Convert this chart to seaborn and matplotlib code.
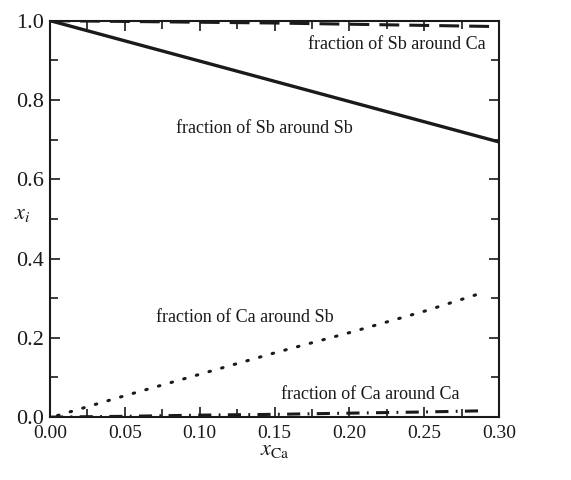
import numpy as np
import pandas as pd
import matplotlib
matplotlib.use("Agg")
import matplotlib.pyplot as plt
import seaborn as sns
from matplotlib.ticker import MultipleLocator

# values
x_sb_sb = [0.0, 0.05, 0.10, 0.15, 0.20, 0.25, 0.30]
y_sb_sb = [1.0, 0.949, 0.898, 0.847, 0.796, 0.745, 0.694]

x_sb_ca = [0.0, 0.05, 0.10, 0.15, 0.20, 0.25, 0.30]
y_sb_ca = [1.0, 0.998, 0.996, 0.994, 0.991, 0.988, 0.985]

x_ca_sb = [0.005, 0.05, 0.10, 0.15, 0.20, 0.25, 0.29]
y_ca_sb = [0.004, 0.054, 0.108, 0.162, 0.213, 0.267, 0.315]

x_ca_ca = [0.0, 0.05, 0.10, 0.15, 0.20, 0.25, 0.29]
y_ca_ca = [0.0, 0.002, 0.005, 0.007, 0.010, 0.013, 0.016]

labels = ["fraction of Sb around Ca", "fraction of Sb around Sb",
          "fraction of Ca around Sb", "fraction of Ca around Ca"]

sns.set_style("ticks")
plt.rcParams["font.family"] = ["Liberation Serif", "DejaVu Serif"]
plt.rcParams["mathtext.fontset"] = "stix"

fig = plt.figure(figsize=(5.71, 4.80), dpi=100)
ax = fig.add_axes([0.0876, 0.131, 0.7864, 0.826])

ink = "#1a1a1a"
sns.lineplot(x=x_sb_sb, y=y_sb_sb, ax=ax, color=ink, lw=2.4, linestyle="-")
sns.lineplot(x=x_sb_ca, y=y_sb_ca, ax=ax, color=ink, lw=2.2,
             linestyle=(0, (6.5, 3.3)))
sns.lineplot(x=x_ca_sb, y=y_ca_sb, ax=ax, color=ink, lw=2.2,
             linestyle=(0, (0.5, 3.8)), dash_capstyle="round")
sns.lineplot(x=x_ca_ca, y=y_ca_ca, ax=ax, color=ink, lw=2.2,
             linestyle=(0, (4.3, 2.4, 0.6, 2.4)))

ax.set_xlim(0, 0.30)
ax.set_ylim(0, 1.0)
ax.xaxis.set_major_locator(MultipleLocator(0.05))
ax.xaxis.set_minor_locator(MultipleLocator(0.025))
ax.yaxis.set_major_locator(MultipleLocator(0.2))
ax.yaxis.set_minor_locator(MultipleLocator(0.1))
ax.xaxis.set_major_formatter(plt.FuncFormatter(lambda v, p: f"{v:.2f}"))
ax.yaxis.set_major_formatter(plt.FuncFormatter(lambda v, p: f"{v:.1f}"))

ax.tick_params(which="both", direction="in", top=True, right=True,
               width=1.2, color=ink, labelcolor=ink)
ax.tick_params(which="major", length=7)
ax.tick_params(which="minor", length=6)
ax.tick_params(axis="x", labelsize=14, pad=6)
ax.tick_params(axis="y", labelsize=16, pad=4)
for s in ax.spines.values():
    s.set_linewidth(1.5)
    s.set_color(ink)

ax.set_xlabel(r"$x_{\mathrm{Ca}}$", fontsize=16, color=ink, labelpad=-1)
ax.set_ylabel(r"$x_{i}$", fontsize=16, rotation=0, color=ink)
ax.yaxis.set_label_coords(-0.062, 0.487)

txt_pos = [(0.232, 0.939), (0.143, 0.729), (0.130, 0.250), (0.214, 0.056)]
for t, (tx, ty) in zip(labels, txt_pos):
    ax.text(tx, ty, t, ha="center", va="center", fontsize=13, color=ink)

fig.savefig("out.png", dpi=100)
